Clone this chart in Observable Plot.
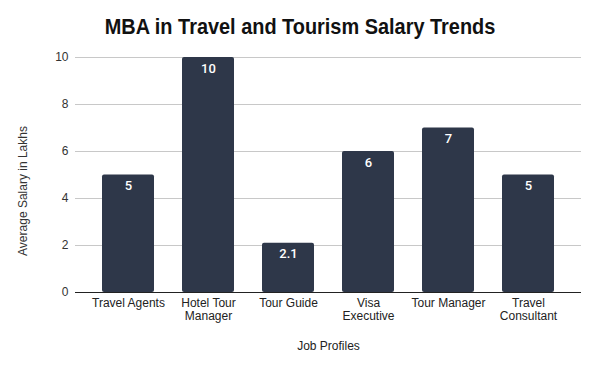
<!DOCTYPE html>
<html>
<head>
<meta charset="utf-8">
<script src="https://cdn.jsdelivr.net/npm/d3@7"></script>
<script src="https://cdn.jsdelivr.net/npm/@observablehq/plot@0.6"></script>
<style>
  html, body { margin: 0; padding: 0; background: #fff; }
  #wrap { position: relative; width: 600px; height: 371px; overflow: hidden; }
  #title { position: absolute; left: 0; top: 14px; width: 600px; text-align: center;
    font-family: "Liberation Sans", Arial, sans-serif; font-weight: bold; font-size: 22px; color: #111;
    transform: scaleX(0.905); transform-origin: 300px 0; }
  #chart { position: absolute; left: 0; top: 0; }
</style>
</head>
<body>
<div id="wrap">
  <div id="chart"></div>
  <div id="title">MBA in Travel and Tourism Salary Trends</div>
</div>
<script>
const categories = ["Travel Agents", "Hotel Tour\nManager", "Tour Guide", "Visa\nExecutive", "Tour Manager", "Travel\nConsultant"];
const salaries = [5, 10, 2.1, 6, 7, 5];
const yTicks = [0, 2, 4, 6, 8, 10];
const yLabel = "Average Salary in Lakhs";
const xLabel = "Job Profiles";

const data = categories.map((c, i) => ({job: c, salary: salaries[i]}));
const barColor = "#2e3749";

const chart = Plot.plot({
  width: 600,
  height: 371,
  marginTop: 57,
  marginBottom: 79,
  marginLeft: 75,
  marginRight: 19,
  style: {fontFamily: "'Liberation Sans', Arial, sans-serif", fontSize: "12px", color: "#333", background: "#fff"},
  x: {domain: categories, paddingInner: 0.35, paddingOuter: 0.3375},
  y: {domain: [0, 10]},
  marks: [
    Plot.gridY(yTicks, {stroke: "#c8c8c8", strokeOpacity: 1}),
    Plot.axisY(yTicks, {tickSize: 0, tickPadding: 7, label: null, fill: "#333"}),
    Plot.text([yLabel], {frameAnchor: "left", textAnchor: "middle", rotate: -90, dx: -52, dy: 16, text: d => d, fill: "#333", fontSize: 12}),
    Plot.axisX({tickSize: 0, tickPadding: 6, lineHeight: 1.05, label: xLabel, labelAnchor: "center", labelArrow: "none", labelOffset: 57, fill: "#222"}),
    Plot.barY(data, {x: "job", y: "salary", fill: barColor, rx: 2}),
    Plot.ruleY([0], {stroke: "#222", strokeWidth: 1}),
    Plot.text(data, {x: "job", y: "salary", text: d => String(d.salary), dy: 11, fill: "#fff", fontSize: 13, fontWeight: 500, fontFamily: "Roboto, sans-serif"})
  ]
});
document.getElementById("chart").appendChild(chart);
</script>
</body>
</html>
